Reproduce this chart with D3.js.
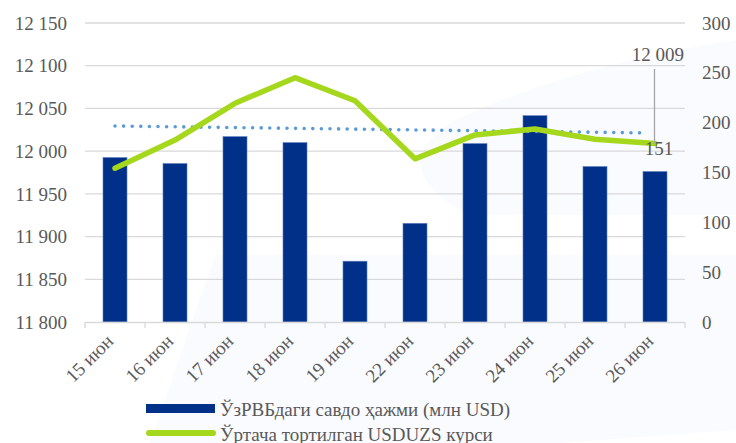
<!DOCTYPE html>
<html>
<head>
<meta charset="utf-8">
<script src="https://cdn.jsdelivr.net/npm/d3@7"></script>
<style>
  html, body { margin: 0; padding: 0; background: #fff; }
  svg { display: block; }
  text { font-family: "Liberation Serif", "DejaVu Serif", serif; fill: #595959; }
</style>
</head>
<body>
<svg id="chart" width="736" height="443"></svg>
<script>
// data
var dates = ['15 июн', '16 июн', '17 июн', '18 июн', '19 июн', '22 июн', '23 июн', '24 июн', '25 июн', '26 июн'];
var volume = [165, 159, 186, 180, 61, 99, 179, 207, 156, 151];          // right axis, млн USD
var rate = [11980, 12013, 12056, 12086, 12059, 11991, 12019, 12026, 12014, 12009]; // left axis
var leftTicks = [11800, 11850, 11900, 11950, 12000, 12050, 12100, 12150];
var rightTicks = [0, 50, 100, 150, 200, 250, 300];
var legendNames = ['ЎзРВБдаги савдо ҳажми (млн USD)', 'Ўртача тортилган USDUZS курси'];

var svg = d3.select('#chart');
var fmt = d3.formatLocale({ decimal: ',', thousands: ' ', grouping: [3], currency: ['', ''] }).format(',d');

var x = d3.scaleBand().domain(dates).range([85, 685]);
var yL = d3.scaleLinear().domain([11800, 12150]).range([322, 23]);
var yR = d3.scaleLinear().domain([0, 300]).range([322, 23]);
var cx = d => x(d) + x.bandwidth() / 2;

// faint background decoration
svg.append('path')
  .attr('d', 'M 736 40 C 640 55, 540 80, 455 120 C 405 150, 410 185, 470 215 L 736 215 Z')
  .attr('fill', '#fafbfe');
svg.append('path')
  .attr('d', 'M 150 443 L 215 255 L 736 255 L 736 430 L 560 443 Z')
  .attr('fill', '#fafbfe');

// gridlines
svg.append('g').selectAll('line')
  .data(leftTicks.slice(1))
  .join('line')
  .attr('x1', 85).attr('x2', 685)
  .attr('y1', d => yL(d)).attr('y2', d => yL(d))
  .attr('stroke', '#d9d9d9').attr('stroke-width', 1.3);

// left axis labels
svg.append('g').selectAll('text')
  .data(leftTicks)
  .join('text')
  .attr('x', 67).attr('y', d => yL(d))
  .attr('dy', '0.35em')
  .attr('text-anchor', 'end')
  .style('font-size', '19px')
  .text(d => fmt(d));

// right axis labels
svg.append('g').selectAll('text')
  .data(rightTicks)
  .join('text')
  .attr('x', 702).attr('y', d => yR(d))
  .attr('dy', '0.35em')
  .style('font-size', '19px')
  .text(d => fmt(d));

// bars
var bw = 24;
svg.append('g').selectAll('rect')
  .data(volume)
  .join('rect')
  .attr('x', (d, i) => cx(dates[i]) - bw / 2)
  .attr('y', d => yR(d))
  .attr('width', bw)
  .attr('height', d => yR(0) - yR(d))
  .attr('fill', '#003087')
  .attr('stroke', '#5f7fbf').attr('stroke-width', 0.6);

// bottom axis line + ticks
svg.append('line')
  .attr('x1', 85).attr('x2', 685).attr('y1', 322.5).attr('y2', 322.5)
  .attr('stroke', '#d9d9d9').attr('stroke-width', 1.3);
svg.append('g').selectAll('line')
  .data(d3.range(dates.length + 1))
  .join('line')
  .attr('x1', i => 85 + i * x.step()).attr('x2', i => 85 + i * x.step())
  .attr('y1', 322).attr('y2', 328)
  .attr('stroke', '#d9d9d9').attr('stroke-width', 1.3);

// category labels
svg.append('g').selectAll('text')
  .data(dates)
  .join('text')
  .attr('transform', d => 'translate(' + (cx(d) - 10) + ',333) rotate(-45)')
  .attr('text-anchor', 'end')
  .attr('dy', '0.7em')
  .style('font-size', '19px')
  .text(d => d);

// linear trend of rate
var n = rate.length;
var mx = d3.mean(d3.range(n)), my = d3.mean(rate);
var slope = d3.sum(rate, (v, i) => (i - mx) * (v - my)) / d3.sum(d3.range(n), i => (i - mx) * (i - mx));
var trendAt = i => my + slope * (i - mx);
svg.append('line')
  .attr('x1', cx(dates[0])).attr('y1', yL(trendAt(0)))
  .attr('x2', cx(dates[n - 1]) - 8).attr('y2', yL(trendAt(n - 1 - 8 / x.step())))
  .attr('stroke', '#5b9bd5').attr('stroke-width', 3.6)
  .attr('stroke-linecap', 'round').attr('stroke-dasharray', '0 8.6');

// rate line
var line = d3.line().x((d, i) => cx(dates[i])).y(d => yL(d));
svg.append('path')
  .datum(rate)
  .attr('d', line)
  .attr('fill', 'none')
  .attr('stroke', '#a5d81c').attr('stroke-width', 5.5)
  .attr('stroke-linejoin', 'round').attr('stroke-linecap', 'round');

// annotations for last day
var lastX = cx(dates[n - 1]);
svg.append('line')
  .attr('x1', lastX - 0.5).attr('x2', lastX - 0.5)
  .attr('y1', 69).attr('y2', yL(rate[n - 1]))
  .attr('stroke', '#a6a6a6').attr('stroke-width', 1.3);
svg.append('text')
  .attr('x', 684).attr('y', 61)
  .attr('text-anchor', 'end')
  .style('font-size', '19px')
  .text(fmt(rate[n - 1]));
svg.append('text')
  .attr('x', lastX + 4).attr('y', 155)
  .attr('text-anchor', 'middle')
  .style('font-size', '19px')
  .text(fmt(volume[n - 1]));

// legend
var lg = svg.append('g');
lg.append('rect')
  .attr('x', 146).attr('y', 404).attr('width', 69).attr('height', 9)
  .attr('fill', '#003087');
lg.append('text')
  .attr('x', 220).attr('y', 409).attr('dy', '0.35em')
  .style('font-size', '19px')
  .text(legendNames[0]);
lg.append('line')
  .attr('x1', 149).attr('x2', 213).attr('y1', 433).attr('y2', 433)
  .attr('stroke', '#a5d81c').attr('stroke-width', 6).attr('stroke-linecap', 'round');
lg.append('text')
  .attr('x', 220).attr('y', 434).attr('dy', '0.35em')
  .style('font-size', '19px')
  .text(legendNames[1]);
</script>
</body>
</html>
